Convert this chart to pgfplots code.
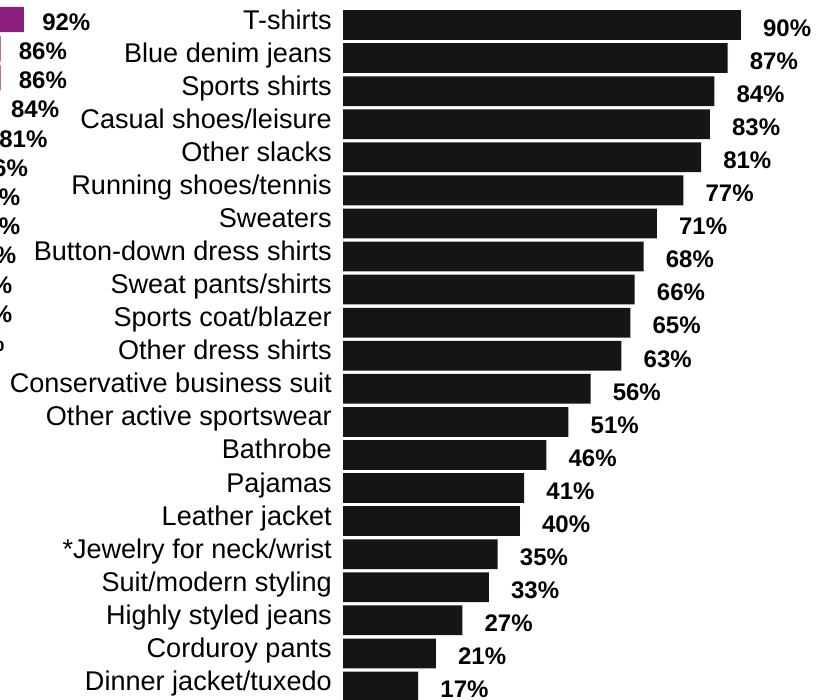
\documentclass[border=0pt]{standalone}
\usepackage{pgfplots}
\pgfplotsset{compat=1.18}
\usepackage{fontspec}
\setmainfont{Liberation Sans}
\definecolor{barblack}{RGB}{22,20,22}
\definecolor{purp}{RGB}{140,30,125}
\begin{document}
\begin{tikzpicture}
\useasboundingbox (0pt,0pt) rectangle (620.25pt,-524.25pt);
\clip (0pt,0pt) rectangle (620.25pt,-524.25pt);
% cropped fragment of the neighbouring chart (left edge of the scan)
\begin{axis}[overlay,
  at={(-251.1pt,-3.675pt)}, anchor=north west,
  scale only axis, width=292.5pt, height=262.8pt,
  xmin=0, xmax=100, ymin=-0.5, ymax=11.5, y dir=reverse,
  xbar, bar width=0.86, hide axis,
  point meta=x,
  /pgf/number format/assume math mode=true,
  nodes near coords={\pgfmathprintnumber{\pgfplotspointmeta}\%},
  nodes near coords style={font=\fontsize{18}{20}\selectfont\bfseries,
     anchor=west, inner sep=0pt, xshift=13.5pt, yshift=-1.9pt, text=black},
]
\addplot[fill=purp, draw=none] coordinates {
 (92,0) (86,1) (86,2) (84,3) (81,4) (76,5) (74,6) (74,7) (73,8) (72,9) (72,10) (70,11)
};
\end{axis}
% main chart
\begin{axis}[overlay,
  at={(257.25pt,-6.35pt)}, anchor=north west,
  scale only axis, width=331.5pt, height=520.9pt,
  xmin=0, xmax=100, ymin=-0.5, ymax=20.5, y dir=reverse,
  xbar, bar width=0.9,
  axis line style={draw=none}, major tick length=0pt,
  xtick=\empty,
  ytick={0,...,20},
  yticklabels={T-shirts, Blue denim jeans, Sports shirts, Casual shoes/leisure,
    Other slacks, Running shoes/tennis, Sweaters, Button-down dress shirts,
    Sweat pants/shirts, Sports coat/blazer, Other dress shirts,
    Conservative business suit, Other active sportswear, Bathrobe, Pajamas,
    Leather jacket, *Jewelry for neck/wrist, Suit/modern styling,
    Highly styled jeans, Corduroy pants, Dinner jacket/tuxedo},
  yticklabel style={font=\fontsize{20.3}{24}\selectfont, anchor=base east,
    inner sep=0pt, xshift=-8.25pt, yshift=-3pt},
  point meta=x,
  /pgf/number format/assume math mode=true,
  nodes near coords={\pgfmathprintnumber{\pgfplotspointmeta}\%},
  nodes near coords style={font=\fontsize{18}{20}\selectfont\bfseries,
     anchor=west, inner sep=0pt, xshift=16.5pt, yshift=-2.3pt, text=black},
]
\addplot[fill=barblack, draw=none] coordinates {
 (90,0) (87,1) (84,2) (83,3) (81,4) (77,5) (71,6) (68,7) (66,8) (65,9)
 (63,10) (56,11) (51,12) (46,13) (41,14) (40,15) (35,16) (33,17) (27,18)
 (21,19) (17,20)
};
\end{axis}
\end{tikzpicture}
\end{document}
